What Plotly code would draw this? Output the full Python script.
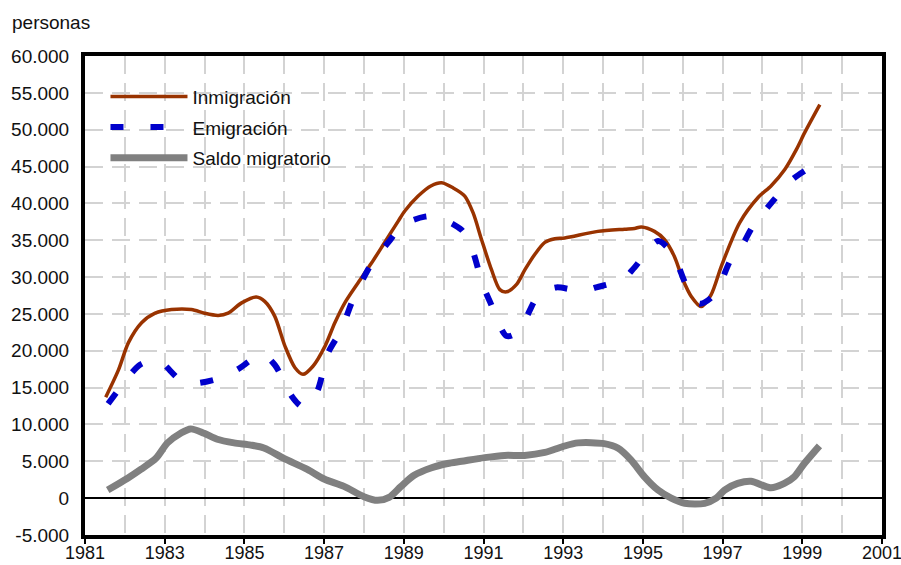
import plotly.graph_objects as go

# ---- data ----
inm_x = [1981.52, 1981.84, 1982.09, 1982.42, 1982.76, 1983.17, 1983.67, 1984.0, 1984.34, 1984.59,
         1984.93, 1985.3, 1985.51, 1985.76, 1986.02, 1986.27, 1986.47, 1986.72, 1987.02, 1987.27,
         1987.52, 1987.85, 1988.19, 1988.52, 1988.86, 1989.03, 1989.36, 1989.69, 1989.95, 1990.24,
         1990.53, 1990.74, 1990.95, 1991.2, 1991.41, 1991.58, 1991.83, 1992.04, 1992.29, 1992.54,
         1992.79, 1993.04, 1993.87, 1994.54, 1994.79, 1994.96, 1995.29, 1995.54, 1995.79, 1996.0,
         1996.21, 1996.46, 1996.71, 1996.97, 1997.43, 1997.89, 1998.22, 1998.56, 1998.85, 1999.06,
         1999.44]
inmigracion = [13700, 17400, 21100, 23800, 25100, 25600, 25600, 25100, 24800, 25100,
               26500, 27300, 26700, 24700, 20600, 17700, 16800, 17900, 20600, 23800,
               26500, 29200, 31900, 34700, 37600, 39000, 41000, 42400, 42800, 42100,
               41000, 38700, 35100, 31000, 28300, 28000, 29000, 31000, 33100, 34700,
               35200, 35300, 36200, 36500, 36600, 36800, 36200, 35100, 32800, 29700,
               27400, 26000, 27600, 31500, 37400, 40800, 42400, 44600, 47300, 49600,
               53400]

emi_x = [1981.58, 1981.84, 1982.09, 1982.38, 1982.67, 1982.88, 1983.42, 1983.79, 1984.51, 1984.84,
         1985.45, 1985.76, 1986.22, 1986.47, 1986.81, 1987.10, 1987.44, 1987.69, 1988.10, 1988.27,
         1988.61, 1988.98, 1989.53, 1989.82, 1990.45, 1990.70, 1990.99, 1991.16, 1991.58, 1991.87,
         1992.33, 1992.54, 1992.83, 1993.50, 1993.83, 1994.50, 1994.79, 1995.38, 1995.75, 1996.12,
         1996.42, 1996.79, 1997.21, 1997.46, 1997.76, 1998.26, 1998.76, 1999.43]
emigracion = [12800, 14700, 16500, 18100, 18700, 18600, 15900, 15600, 16500, 17500,
              19500, 18100, 13600, 12400, 14300, 19700, 22900, 26500, 31000, 32400,
              34700, 37100, 38200, 38200, 36400, 34000, 28800, 26700, 22000, 22600,
              27200, 28100, 28600, 28100, 28600, 29700, 31300, 34900, 33100, 28500,
              26400, 27600, 32400, 34000, 36900, 40300, 43300, 45600]

sal_x = [1981.57, 1982.07, 1982.4, 1982.78, 1983.07, 1983.4, 1983.65, 1983.99, 1984.32, 1984.74,
         1985.16, 1985.49, 1985.99, 1986.58, 1987.0, 1987.5, 1988.0, 1988.34, 1988.63, 1988.93,
         1989.26, 1989.68, 1990.1, 1990.45, 1991.03, 1991.53, 1992.03, 1992.54, 1992.99, 1993.37,
         1994.03, 1994.37, 1994.7, 1995.04, 1995.38, 1995.71, 1996.05, 1996.55, 1996.84, 1997.05,
         1997.38, 1997.71, 1998.21, 1998.55, 1998.8, 1999.05, 1999.43]
saldo = [1100, 2700, 3900, 5400, 7500, 8800, 9400, 8800, 8000, 7500,
         7200, 6800, 5400, 3900, 2600, 1600, 200, -300, 100, 1600,
         3100, 4100, 4700, 5000, 5500, 5800, 5800, 6200, 7000, 7500,
         7400, 6800, 5200, 2900, 1100, 0, -700, -700, 0, 1100,
         2000, 2300, 1400, 2000, 2900, 4700, 7100]

y_tickvals = [-5000, 0, 5000, 10000, 15000, 20000, 25000, 30000, 35000, 40000, 45000, 50000, 55000, 60000]
y_ticktext = ["-5.000", "0", "5.000", "10.000", "15.000", "20.000", "25.000", "30.000",
              "35.000", "40.000", "45.000", "50.000", "55.000", "60.000"]
x_tickvals = [1981, 1983, 1985, 1987, 1989, 1991, 1993, 1995, 1997, 1999, 2001]
x_ticktext = [str(v) for v in x_tickvals]

FONT = "Liberation Sans, Arial, sans-serif"
FS = 19
GRID = "#d3d3d3"

fig = go.Figure()
fig.add_trace(go.Scatter(x=inm_x, y=inmigracion, name="Inmigración", mode="lines",
                         line=dict(color="#993300", width=3.5, shape="spline", smoothing=0.8),
                         legendgroup="a"))
fig.add_trace(go.Scatter(x=emi_x, y=emigracion, name="Emigración", mode="lines",
                         line=dict(color="#0000cc", width=6, shape="spline", smoothing=0.8,
                                   dash="13px,27px"),
                         legendgroup="b"))
fig.add_trace(go.Scatter(x=sal_x, y=saldo, name="Saldo migratorio", mode="lines",
                         line=dict(color="#808080", width=7, shape="spline", smoothing=0.8),
                         legendgroup="c"))

fig.update_layout(
    width=901, height=565,
    margin=dict(l=84.5, r=19, t=55.5, b=29.6, autoexpand=False),
    paper_bgcolor="white", plot_bgcolor="white",
    font=dict(family=FONT, size=FS, color="#111111"),
    showlegend=True,
    legend=dict(x=0.0257, y=0.955, xanchor="left", yanchor="top", bgcolor="rgba(0,0,0,0)",
                font=dict(family=FONT, size=FS, color="#111111"),
                itemwidth=77, tracegroupgap=3),
    annotations=[dict(text="personas", x=0, y=1, xref="paper", yref="paper",
                      xshift=-75, yshift=46, xanchor="left", yanchor="top",
                      showarrow=False, font=dict(family=FONT, size=FS, color="#111111"))],
)
fig.update_xaxes(range=[1981, 2001], tickvals=x_tickvals, ticktext=x_ticktext,
                 automargin=False, ticklabeloverflow="allow",
                 tickfont=dict(family=FONT, size=18, color="#111111"),
                 showgrid=True, gridcolor=GRID, gridwidth=2, griddash="18px,9px",
                 minor=dict(dtick=1, tick0=1981, showgrid=True, gridcolor=GRID, gridwidth=2,
                            griddash="18px,9px"),
                 ticks="outside", ticklen=5, tickwidth=2, tickcolor="black",
                 ticklabelstandoff=-7,
                 showline=True, linecolor="black", linewidth=4, mirror=True,
                 zeroline=False)
fig.update_yaxes(range=[-5000, 60000], tickvals=y_tickvals, ticktext=y_ticktext,
                 automargin=False,
                 showgrid=True, gridcolor=GRID, gridwidth=2, griddash="18px,9px",
                 showline=True, linecolor="black", linewidth=4, mirror=True,
                 zeroline=True, zerolinecolor="black", zerolinewidth=2,
                 ticks="", ticklabelstandoff=8)

fig.write_html("out.html", config={"displayModeBar": False},
               post_script="document.body.style.margin='0';document.body.style.overflow='hidden';")
